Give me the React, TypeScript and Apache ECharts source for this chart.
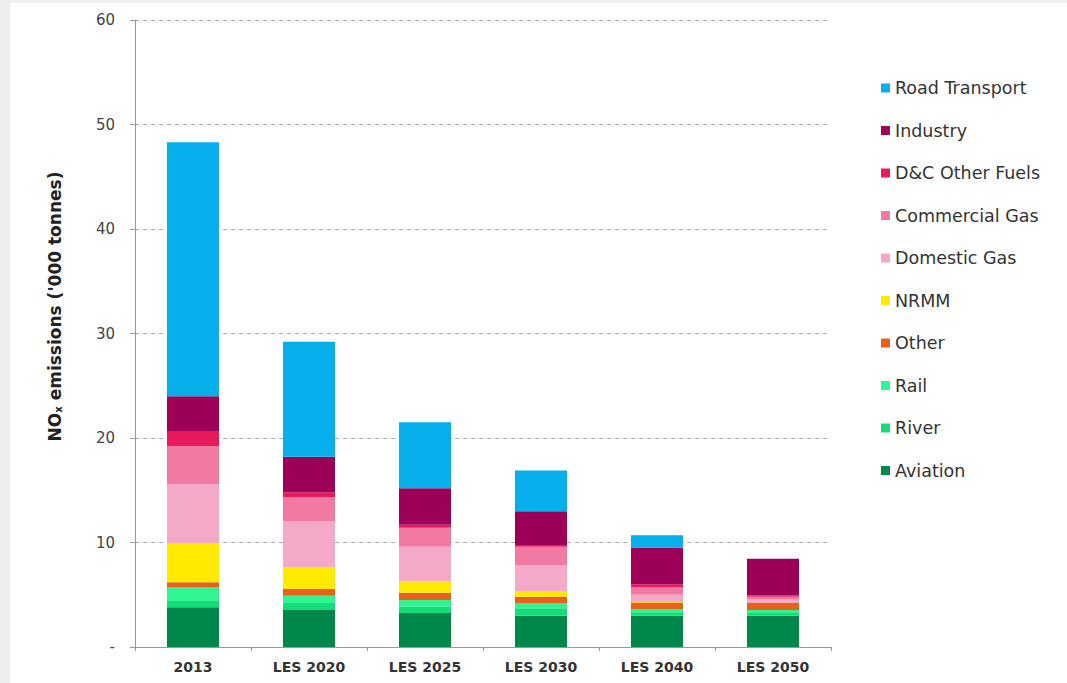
import React, { useEffect, useRef } from "react";
import * as echarts from "echarts";

const categories = ["2013", "LES 2020", "LES 2025", "LES 2030", "LES 2040", "LES 2050"];

// stacked bottom -> top
const aviation = [3.8, 3.55, 3.25, 3.0, 3.0, 3.0];
const river = [0.6, 0.65, 0.6, 0.7, 0.25, 0.25];
const rail = [1.3, 0.7, 0.65, 0.5, 0.35, 0.3];
const other = [0.5, 0.65, 0.7, 0.6, 0.65, 0.7];
const nrmm = [3.75, 2.1, 1.1, 0.55, 0.05, 0];
const domesticGas = [5.65, 4.35, 3.3, 2.5, 0.7, 0.3];
const commercialGas = [3.6, 2.35, 1.8, 1.75, 0.75, 0.25];
const dcOtherFuels = [1.4, 0.45, 0.3, 0.15, 0.25, 0.15];
const industry = [3.4, 3.4, 3.5, 3.25, 3.5, 3.5];
const roadTransport = [24.3, 11.0, 6.3, 3.9, 1.2, 0];

const seriesNames = [
  "Aviation",
  "River",
  "Rail",
  "Other",
  "NRMM",
  "Domestic Gas",
  "Commercial Gas",
  "D&C Other Fuels",
  "Industry",
  "Road Transport",
];
const seriesData = [aviation, river, rail, other, nrmm, domesticGas, commercialGas, dcOtherFuels, industry, roadTransport];
const seriesColors = [
  "#00884a",
  "#14dc78",
  "#30f592",
  "#e8601a",
  "#ffea00",
  "#f5a9c9",
  "#f27aa2",
  "#e8195c",
  "#9c0057",
  "#06aeea",
];

export default function App() {
  const ref = useRef<HTMLDivElement>(null);
  useEffect(() => {
    if (!ref.current) return;
    const chart = echarts.init(ref.current, undefined, { renderer: "svg" });
    const font = "DejaVu Sans, Verdana, sans-serif";
    chart.setOption({
      animation: false,
      backgroundColor: "#ffffff",
      textStyle: { fontFamily: font },
      graphic: [
        { type: "rect", left: 0, top: 0, shape: { width: 10, height: 683 }, style: { fill: "#eeeeee" }, z: -10 },
        { type: "rect", left: 0, top: 0, shape: { width: 1067, height: 3 }, style: { fill: "#eeeeee" }, z: -10 },
      ],
      grid: { left: 135, right: 236, top: 20, bottom: 36, containLabel: false },
      legend: {
        orient: "vertical",
        left: 876,
        top: 73,
        icon: "rect",
        itemWidth: 9,
        itemHeight: 9,
        itemGap: 22.5,
        data: [...seriesNames].reverse(),
        textStyle: { fontFamily: font, fontSize: 17.5, color: "#333", lineHeight: 20 },
      },
      xAxis: {
        type: "category",
        data: categories,
        axisLine: { lineStyle: { color: "#999" } },
        axisTick: { show: true, length: 4, lineStyle: { color: "#999" } },
        axisLabel: { fontFamily: font, fontSize: 14, fontWeight: "bold", color: "#333", margin: 13 },
      },
      yAxis: {
        type: "value",
        min: 0,
        max: 60,
        interval: 10,
        name: "{a|NO}{b|x}{a| emissions ('000 tonnes)}",
        nameLocation: "middle",
        nameRotate: 90,
        nameGap: 72,
        nameTextStyle: {
          padding: [0, 0, 0, 54],
          rich: {
            a: { fontFamily: font, fontSize: 17, fontWeight: "bold", color: "#222" },
            b: { fontFamily: font, fontSize: 10, fontWeight: "bold", color: "#222", verticalAlign: "bottom", padding: [7, 0, 0, 0] },
          },
        },
        axisLine: { show: true, lineStyle: { color: "#999" } },
        axisTick: { show: true, length: 5, lineStyle: { color: "#999" } },
        axisLabel: {
          fontFamily: font,
          fontSize: 15,
          color: "#444",
          margin: 20,
          formatter: (v: number) => (v === 0 ? "-" : String(v)),
        },
        splitLine: { show: true, lineStyle: { color: "#aaa", type: [4, 4], width: 1 } },
      },
      series: seriesNames.map((name, i) => ({
        name,
        type: "bar",
        stack: "total",
        barWidth: 52,
        data: seriesData[i],
        itemStyle: { color: seriesColors[i] },
      })),
    });
    return () => chart.dispose();
  }, []);
  return (
    <div
      ref={ref}
      style={{ position: "fixed", left: 0, top: 0, width: 1067, height: 683 }}
    />
  );
}
